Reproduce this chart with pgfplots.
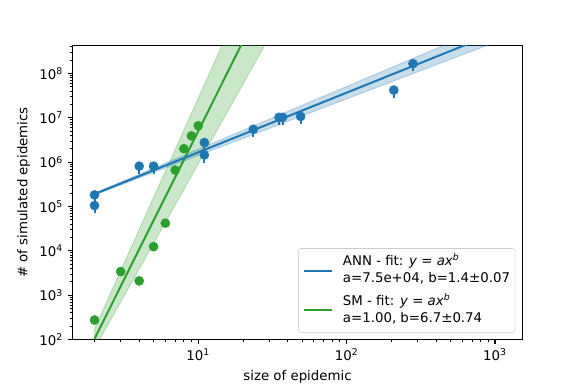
\documentclass[border=0pt]{standalone}
\usepackage{fontspec}
\setmainfont{DejaVu Sans}
\usepackage{pgfplots}
\pgfplotsset{compat=1.18}
\definecolor{cA}{HTML}{1F77B4}
\definecolor{cC}{HTML}{2CA02C}
\newcommand\lstrut{\rule[-3.8pt]{0pt}{13.0pt}}
\renewcommand\arraystretch{0.5}
\begin{document}
\begin{tikzpicture}
\path[use as bounding box] (-54.2pt,-36.4pt) rectangle (381.5pt,254.6pt);
\begin{axis}[
  at={(0,0)}, anchor=south west,
  scale only axis, width=337.8pt, height=220.4pt,
  xmode=log, ymode=log, log basis x=10, log basis y=10,
  xmin=1.416, xmax=1538, ymin=100, ymax=4.24e8,
  xtick={10,100,1000},
  xticklabels={10\textsuperscript{1},10\textsuperscript{2},10\textsuperscript{3}},
  ytick={1e2,1e3,1e4,1e5,1e6,1e7,1e8},
  yticklabels={10\textsuperscript{2},10\textsuperscript{3},10\textsuperscript{4},10\textsuperscript{5},10\textsuperscript{6},10\textsuperscript{7},10\textsuperscript{8}},
  minor xtick={2,3,4,5,6,7,8,9,20,30,40,50,60,70,80,90,200,300,400,500,600,700,800,900},
  minor ytick={2e2,3e2,4e2,5e2,6e2,7e2,8e2,9e2,2e3,3e3,4e3,5e3,6e3,7e3,8e3,9e3,2e4,3e4,4e4,5e4,6e4,7e4,8e4,9e4,2e5,3e5,4e5,5e5,6e5,7e5,8e5,9e5,2e6,3e6,4e6,5e6,6e6,7e6,8e6,9e6,2e7,3e7,4e7,5e7,6e7,7e7,8e7,9e7,2e8,3e8,4e8},
  tick align=outside, tick pos=left,
  major tick length=3.5pt, minor tick length=2pt,
  every major tick/.style={black, line width=0.8pt},
  every minor tick/.style={black, line width=0.6pt},
  axis line style={line width=0.8pt},
  tick label style={font=\fontsize{10}{12}\selectfont},
  label style={font=\fontsize{10}{12}\selectfont},
  xlabel={size of epidemic},
  ylabel={\# of simulated epidemics},
  legend style={at={(0.9836,0.0231)}, anchor=south east,
    draw=black!20, rounded corners=2pt, fill=white, fill opacity=0.8, text opacity=1,
    font=\fontsize{10}{12}\selectfont, row sep=3.95pt, column sep=7.5pt,
    inner xsep=3.75pt, inner ysep=3.5pt,
    nodes={inner xsep=0pt, inner ysep=0pt, text depth=}},
  legend cell align=left,
  legend image code/.code={\draw[#1] (0pt,0pt) -- (20.8pt,0pt);},
]
% bands
\addplot[forget plot, draw=cC, draw opacity=0.25, fill=cC, fill opacity=0.25, line width=0.75pt]
  coordinates {(2,62.3) (30,6.36e8) (30,9.77e10) (2,173.6)} -- cycle;
\addplot[forget plot, draw=cA, draw opacity=0.25, fill=cA, fill opacity=0.25, line width=0.75pt]
  coordinates {(2,1.815e5) (1000,5.01e8) (1000,1.318e9) (2,2.0e5)} -- cycle;
% fit lines
\addplot[forget plot, cC, line width=1.5pt] coordinates {(2,104) (30,7.88e9)};
\addplot[forget plot, cA, line width=1.5pt] coordinates {(2,1.905e5) (1000,8.13e8)};
% SM data
\addplot[forget plot, only marks, mark=*, mark size=3.4pt, cC]
  coordinates {(2,275) (3,3400) (4,2100) (5,1.24e4) (6,4.2e4) (7,6.6e5) (8,2.0e6) (9,3.9e6) (10,6.6e6)};
% ANN data
\addplot[forget plot, only marks, mark=*, mark size=3.4pt, cA,
  error bars/.cd, y dir=both, y explicit, error mark=none,
  error bar style={line width=1.5pt, cA}]
  coordinates {
    (2,1.82e5) += (0,3.6e4) -= (0,6.0e4)
    (2,1.05e5) += (0,2.1e4) -= (0,3.5e4)
    (4,8.1e5) += (0,1.6e5) -= (0,2.7e5)
    (5,8.1e5) += (0,1.6e5) -= (0,2.7e5)
    (11,2.76e6) += (0,5.5e5) -= (0,9.1e5)
    (11,1.45e6) += (0,2.9e5) -= (0,4.8e5)
    (23.5,5.5e6) += (0,1.1e6) -= (0,1.8e6)
    (35,1.02e7) += (0,2.0e6) -= (0,3.4e6)
    (37,1.02e7) += (0,2.0e6) -= (0,3.4e6)
    (49,1.07e7) += (0,2.1e6) -= (0,3.5e6)
    (208,4.2e7) += (0,8.4e6) -= (0,1.4e7)
    (280,1.66e8) += (0,3.3e7) -= (0,5.5e7)
  };
\addlegendimage{cA, line width=1.5pt}
\addlegendentry{\begin{tabular}{@{}l@{}}\lstrut ANN - fit: \textit{y} = \textit{ax}\textsuperscript{\textit{b}}\\ \lstrut a=7.5e+04, b=1.4±0.07\end{tabular}}
\addlegendimage{cC, line width=1.5pt}
\addlegendentry{\begin{tabular}{@{}l@{}}\lstrut SM - fit: \textit{y} = \textit{ax}\textsuperscript{\textit{b}}\\ \lstrut a=1.00, b=6.7±0.74\end{tabular}}
\end{axis}
\end{tikzpicture}
\end{document}
